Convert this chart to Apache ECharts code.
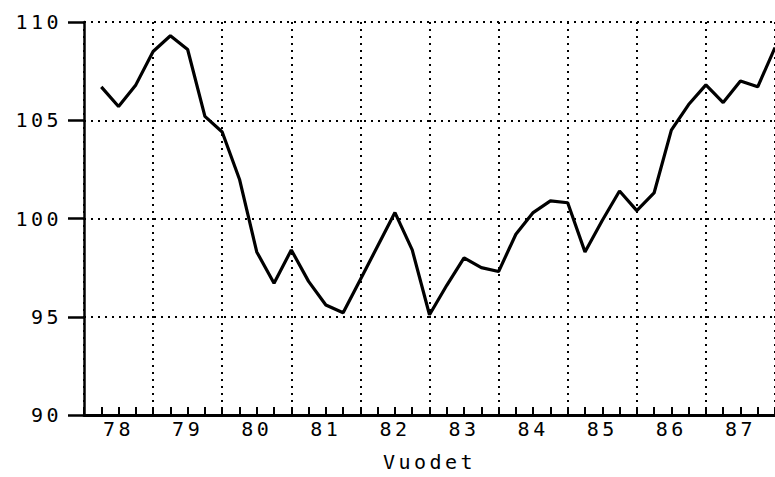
<!DOCTYPE html>
<html>
<head>
<meta charset="utf-8">
<script src="https://cdn.jsdelivr.net/npm/echarts@6/dist/echarts.min.js"></script>
<style>
  html, body { margin: 0; padding: 0; background: #fff; }
  #main { width: 775px; height: 477px; }
  /* plotter lettering is widely spaced */
  #main text { letter-spacing: 3.5px; }
</style>
</head>
<body>
<div id="main"></div>
<script>
// years on the axis, one label per year
const years = ['78', '79', '80', '81', '82', '83', '84', '85', '86', '87']
// quarter index of each point (end of quarter, 1 = 78 Q1)
const quarters = [1, 2, 3, 4, 5, 6, 7, 8, 9, 10, 11, 12, 13, 14, 15, 16, 17, 18, 19, 20,
  21, 22, 23, 24, 25, 26, 27, 28, 29, 30, 31, 32, 33, 34, 35, 36, 37, 38, 39, 40]
const values = [106.7, 105.7, 106.8, 108.5, 109.3, 108.6, 105.2, 104.4, 102.0, 98.3,
  96.7, 98.4, 96.8, 95.6, 95.2, 96.9, 98.6, 100.3, 98.4, 95.1,
  96.6, 98.0, 97.5, 97.3, 99.2, 100.3, 100.9, 100.8, 98.3, 99.9,
  101.4, 100.4, 101.3, 104.5, 105.8, 106.8, 105.9, 107.0, 106.7, 108.7]
const yMin = 90
const yMax = 110
const yStep = 5
const xName = 'Vuodet'

const font = 'DejaVu Sans Mono'
const dotted = { color: '#000', width: 2, type: [2, 5] }

var myChart = echarts.init(document.getElementById('main'), null, { renderer: 'svg' })

myChart.setOption({
  animation: false,
  backgroundColor: '#fff',
  grid: {
    left: 84,
    top: 22,
    width: 697, // last year runs a bit past the right edge
    height: 394
  },
  xAxis: [
    {
      type: 'category',
      data: years,
      boundaryGap: true,
      name: xName,
      nameLocation: 'middle',
      nameGap: 37,
      nameTextStyle: { color: '#000', fontFamily: font, fontSize: 20 },
      axisLine: { lineStyle: { color: '#000', width: 3 } },
      axisTick: { inside: true, length: 16, lineStyle: { color: '#000', width: 2 } },
      axisLabel: { interval: 0, margin: 4, color: '#000', fontFamily: font, fontSize: 20 },
      splitLine: { show: true, lineStyle: dotted }
    },
    {
      // quarter ticks, also the scale the line is drawn on
      type: 'value',
      min: 0,
      max: 40,
      interval: 1,
      position: 'bottom',
      axisLine: { show: false },
      axisTick: { inside: true, length: 8, lineStyle: { color: '#000', width: 2 } },
      axisLabel: { show: false },
      splitLine: { show: false }
    }
  ],
  yAxis: {
    type: 'value',
    min: yMin,
    max: yMax,
    interval: yStep,
    axisLine: { show: true, lineStyle: { color: '#000', width: 2.5 } },
    axisTick: { show: true, length: 16, lineStyle: { color: '#000', width: 2.5 } },
    axisLabel: { margin: 22, color: '#000', fontFamily: font, fontSize: 20 },
    splitLine: { show: true, lineStyle: dotted }
  },
  series: [{
    type: 'line',
    xAxisIndex: 1,
    symbol: 'none',
    lineStyle: { color: '#000', width: 3.2 },
    data: quarters.map((q, i) => [q, values[i]])
  }]
})
</script>
</body>
</html>
